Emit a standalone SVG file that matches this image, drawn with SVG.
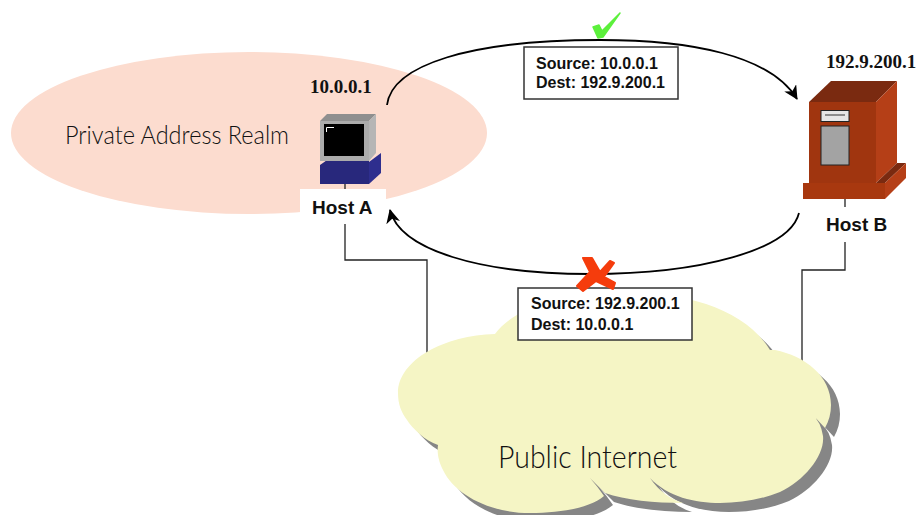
<svg xmlns="http://www.w3.org/2000/svg" width="918" height="515" viewBox="0 0 918 515">
<style>
.lbl{font-family:"Liberation Sans",Arial,sans-serif;font-weight:bold;font-size:16px;fill:#111}
.host{font-family:"Liberation Sans",Arial,sans-serif;font-weight:bold;font-size:19px;fill:#111}
.ip{font-family:"Liberation Serif","Times New Roman",serif;font-weight:bold;font-size:19px;fill:#111}
.hand{font-family:"Lato",sans-serif;font-weight:300;fill:#111}
.wire{fill:none;stroke:#222;stroke-width:1.3}
.arc{fill:none;stroke:#000;stroke-width:1.8;marker-end:url(#ah)}
.box{fill:#fff;stroke:#333;stroke-width:1.5}
</style>
<defs>
<marker id="ah" markerUnits="userSpaceOnUse" markerWidth="16" markerHeight="16" refX="13" refY="7" orient="auto">
<path d="M0,0 L14,7 L0,14 L4,7 Z" fill="#000"/>
</marker>
<path id="outline" d="M495,334 C512,310 560,292 620,292 C690,292 745,310 770,350 L775,350 C805,356 831,376 831,405 C831,413 829,421 825,428 L812,414 Q821,422 823,436 C825,455 805,480 780,492 C760,500 740,503 720,503 C695,503 668,497 650,478 Q663,497 683,503 C655,503 625,500 605,493 L590,478 Q598,487 604,496 C590,508 560,513 530,513 C490,513 455,495 443,470 C438,460 437,452 438,445 C425,441 412,428 407,420 C401,412 398,404 398,393 C398,360 445,335 495,334 Z"/>
</defs>
<g id="realm">
<ellipse cx="249" cy="133" rx="238" ry="81" fill="#fcdccf"/>
<text class="hand" x="65" y="144" font-size="25" textLength="224" lengthAdjust="spacingAndGlyphs">Private Address Realm</text>
</g>
<g id="connectors">
<path class="wire" d="M345,184V190M345,224V260H427V356"/>
<path class="wire" d="M845,198V207M845,242V270H802V366"/>
</g>
<g id="cloud">
<use href="#outline" x="9" y="9" fill="#868686"/>
<use href="#outline" fill="#f5f5c5"/>
<text class="hand" x="498" y="468" font-size="32" textLength="179" lengthAdjust="spacingAndGlyphs">Public Internet</text>
</g>
<g id="arcs">
<path class="arc" d="M387,105 C392,65 470,40 600,40 C690,40 770,55 797,99"/>
<path class="arc" d="M799,213 C790,250 700,274 590,274 C480,274 400,250 390,210"/>
</g>
<g id="hostA">
<path d="M369,162 L381,153 V173 L369,184 Z" fill="#2e2e8e"/>
<path d="M320,165 L330,158 H369 V184 H320 Z" fill="#28287c"/>
<path d="M320,121 L327,114 H376 L369,121 Z" fill="#8f8f8f"/>
<path d="M369,121 L376,114 V153 L369,161 Z" fill="#b5b5b5"/>
<rect x="320" y="121" width="49" height="40" fill="#ababab"/>
<rect x="324" y="124" width="40" height="32" fill="#000"/>
<path d="M326.500,132 V127.500 H334" fill="none" stroke="#fff" stroke-width="1"/>
<rect x="300" y="189" width="86" height="33" fill="#fff"/>
<text class="host" x="312" y="214">Host A</text>
<text class="ip" x="310" y="93">10.0.0.1</text>
</g>
<g id="hostB">
<path d="M809,102 L831,81 H897 L876,102 Z" fill="#7a2a10"/>
<path d="M876,102 L897,81 V163 L876,183 Z" fill="#b53f17"/>
<rect x="809" y="102" width="67" height="81" fill="#a0350f"/>
<path d="M876,183 L897,163 H906 L885,183 Z" fill="#7a2a10"/>
<path d="M885,183 L906,163 V178 L885,199 Z" fill="#b53f17"/>
<rect x="803" y="183" width="82" height="16" fill="#a8380f"/>
<rect x="821" y="110.500" width="28" height="11" fill="#e6e6e6" stroke="#222" stroke-width="1"/>
<path d="M825,115 H845" stroke="#333" stroke-width="1"/>
<rect x="821" y="126" width="28" height="39" fill="#a3a3a3" stroke="#222" stroke-width="1"/>
<text class="host" x="826" y="231">Host B</text>
<text class="ip" x="826" y="68">192.9.200.1</text>
</g>
<g id="check">
<path d="M593,27 L599,25 L602,31 L620,13 L603,37 L598,38 Z" fill="#5cf03c" stroke="#5cf03c" stroke-width="1.5" stroke-linejoin="round"/>
</g>
<g id="boxTop">
<rect class="box" x="524" y="47" width="154" height="52"/>
<text class="lbl" x="536" y="69">Source: 10.0.0.1</text>
<text class="lbl" x="536" y="88">Dest: 192.9.200.1</text>
</g>
<g id="boxBottom">
<rect class="box" x="518" y="288" width="174" height="52"/>
<text class="lbl" x="531" y="309">Source: 192.9.200.1</text>
<text class="lbl" x="531" y="330">Dest: 10.0.0.1</text>
</g>
<g id="cross">
<path d="M583,258 L592,258 L600,272 L610,261 L614,263 L604,277 L615,283 L613,289 L596,281 L583,291 L577,286 L590,272 Z" fill="#f53c0c" stroke="#f53c0c" stroke-width="2" stroke-linejoin="round"/>
</g>
</svg>
